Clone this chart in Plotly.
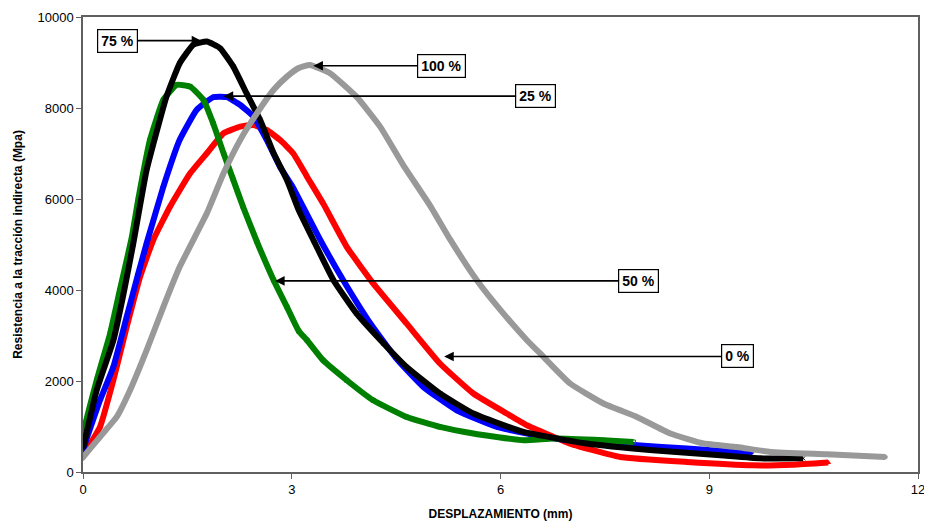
import plotly.graph_objects as go

# Data (displacement mm, strength)
x_0 = [0, 0.05, 0.244, 0.436, 0.628, 0.82, 1.01, 1.25, 1.54, 1.78, 2.02, 2.26, 2.45, 2.64, 2.83, 3.02, 3.22, 3.45, 3.79, 4.17, 4.65, 5.13, 5.61, 6.09, 6.38, 7.0, 7.72, 8.68, 9.63, 10.2, 10.71]
y_0 = [370, 477, 990, 2017, 3190, 4290, 5100, 5830, 6565, 7005, 7445, 7590, 7627, 7517, 7300, 7005, 6490, 5905, 4950, 4145, 3265, 2385, 1725, 1285, 1027, 625, 330, 220, 147, 160, 210]

x_25 = [0, 0.03, 0.244, 0.436, 0.628, 0.795, 0.915, 1.155, 1.39, 1.635, 1.87, 2.07, 2.26, 2.45, 2.64, 2.83, 3.0, 3.41, 3.74, 4.13, 4.51, 4.89, 5.37, 5.95, 6.6, 7.2, 7.96, 8.68, 9.6]
y_25 = [430, 625, 1577, 2310, 3410, 4365, 5030, 6270, 7300, 7960, 8237, 8237, 8067, 7810, 7300, 6710, 6300, 5100, 4215, 3265, 2480, 1870, 1357, 990, 780, 660, 587, 515, 420]

x_50 = [0, 0.005, 0.197, 0.39, 0.53, 0.70, 0.795, 0.963, 1.155, 1.35, 1.54, 1.73, 1.87, 2.02, 2.16, 2.30, 2.50, 2.74, 2.93, 3.10, 3.22, 3.45, 3.79, 4.17, 4.65, 5.13, 5.61, 6.33, 6.76, 7.48, 7.91]
y_50 = [590, 845, 2017, 3045, 4000, 5150, 6000, 7300, 8180, 8510, 8470, 8180, 7665, 7005, 6420, 5830, 5060, 4215, 3630, 3100, 2897, 2457, 2017, 1577, 1210, 990, 845, 697, 735, 697, 660]

x_75 = [0, 0.197, 0.436, 0.58, 0.72, 0.915, 1.20, 1.39, 1.586, 1.78, 1.97, 2.16, 2.35, 2.545, 2.74, 2.93, 3.10, 3.31, 3.60, 3.93, 4.32, 4.65, 5.13, 5.61, 6.33, 7.24, 8.19, 9.16, 9.73, 10.35]
y_75 = [520, 1800, 2890, 3900, 5000, 6640, 8250, 8985, 9390, 9460, 9315, 8910, 8325, 7740, 7005, 6420, 5757, 5100, 4215, 3485, 2825, 2310, 1725, 1285, 880, 625, 477, 367, 300, 300]

x_100 = [0, 0.005, 0.244, 0.484, 0.676, 0.915, 1.155, 1.39, 1.78, 2.02, 2.26, 2.50, 2.74, 2.93, 3.10, 3.26, 3.55, 3.93, 4.27, 4.60, 4.99, 5.28, 5.66, 6.04, 6.38, 6.57, 7.0, 7.48, 7.96, 8.44, 8.92, 9.40, 9.88, 10.69, 11.53]
y_100 = [300, 330, 770, 1210, 1797, 2677, 3630, 4510, 5685, 6565, 7300, 7885, 8400, 8690, 8880, 8947, 8765, 8250, 7590, 6750, 5850, 5100, 4215, 3485, 2897, 2605, 1945, 1505, 1210, 845, 625, 550, 440, 390, 330]

# Annotation labels: (text, tip_x, tip_y, box_x)
labels = ["75 %", "100 %", "25 %", "50 %", "0 %"]
tip_x = [1.70, 3.31, 2.02, 2.76, 5.19]
tip_y = [9480, 8930, 8260, 4200, 2540]
box_x = [0.496, 5.15, 6.51, 7.99, 9.40]

x_ticks = [0, 3, 6, 9, 12]
x_ticklabels = ["0", "3", "6", "9", "12"]
y_ticks = [0, 2000, 4000, 6000, 8000, 10000]
y_ticklabels = ["0", "2000", "4000", "6000", "8000", "10000"]

series = [
    ("0 %", x_0, y_0, "#ff0000", "triangle-up"),
    ("25 %", x_25, y_25, "#0000ff", "diamond"),
    ("50 %", x_50, y_50, "#008000", "square-open"),
    ("75 %", x_75, y_75, "#000000", "x-thin"),
    ("100 %", x_100, y_100, "#999999", "circle"),
]

fig = go.Figure()
for name, xs, ys, col, sym in series:
    fig.add_trace(go.Scatter(
        x=xs, y=ys, name=name, mode="lines+markers",
        line=dict(color=col, width=6, shape="spline", smoothing=0.4),
        marker=dict(color=col, size=4, symbol=sym, line=dict(color=col, width=1)),
        showlegend=False,
    ))

for t, tx, ty, bx in zip(labels, tip_x, tip_y, box_x):
    fig.add_annotation(
        x=tx, y=ty, ax=bx, ay=ty, axref="x", ayref="y", xref="x", yref="y",
        text="<b>%s</b>" % t, showarrow=True, arrowhead=2, arrowsize=1.2,
        arrowwidth=1.6, arrowcolor="black",
        font=dict(family="Liberation Sans, Arial", size=14, color="black"),
        bgcolor="white", bordercolor="black", borderwidth=1.2, borderpad=3,
    )

axis_common = dict(
    showgrid=False, zeroline=False, showline=True, linecolor="#606060",
    linewidth=1.5, mirror=True, ticks="outside", ticklen=5, tickcolor="#606060",
    tickwidth=1.2, automargin=False, ticklabeloverflow="allow",
    tickfont=dict(family="Liberation Sans, Arial", size=13, color="black"),
)

fig.update_xaxes(range=[0, 12], tickvals=x_ticks, ticktext=x_ticklabels,
                 title=dict(text="<b>DESPLAZAMIENTO (mm)</b>", standoff=16,
                            font=dict(family="Liberation Sans, Arial", size=12, color="black")),
                 **axis_common)
fig.update_yaxes(range=[0, 10000], tickvals=y_ticks, ticktext=y_ticklabels,
                 title=dict(text="<b>Resistencia a la tracción indirecta (Mpa)</b>", standoff=12,
                            font=dict(family="Liberation Sans, Arial", size=12, color="black")),
                 **axis_common)

# page body has an 8px default margin, so the figure is offset by 8px
fig.update_layout(
    width=922, height=513,
    margin=dict(l=75, r=12, t=9, b=49),
    plot_bgcolor="white", paper_bgcolor="white",
)

fig.write_html("out.html")
